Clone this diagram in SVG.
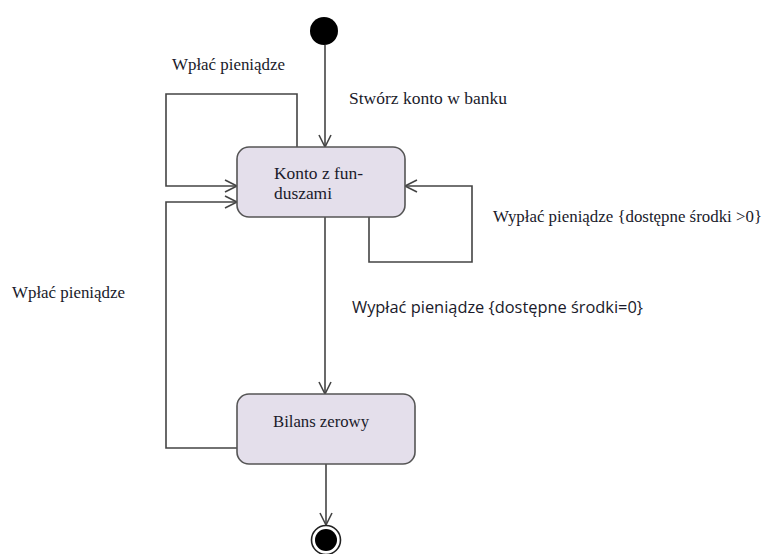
<svg xmlns="http://www.w3.org/2000/svg" width="764" height="554" viewBox="0 0 764 554">
<defs>
<marker id="arr" markerUnits="userSpaceOnUse" markerWidth="16" markerHeight="16" refX="13" refY="7" orient="auto">
<path d="M1,1 L13,7 L1,13" fill="none" stroke="#444" stroke-width="1.6"/>
</marker>
</defs>
<style>
.st{fill:#e4dfeb;stroke:#555;stroke-width:1.6}
.ln{fill:none;stroke:#444;stroke-width:1.6}
.t{font-family:"Liberation Serif",serif;font-size:16px;fill:#1a1a2a}
.s{font-family:"Open Sans","Liberation Sans",sans-serif;font-size:16px;fill:#1a1a2a}
</style>
<rect width="764" height="554" fill="#fff"/>
<g id="connectors">
<path class="ln" d="M325,45 V147" marker-end="url(#arr)"/>
<path class="ln" d="M297,147 V94 H166 V186 H237" marker-end="url(#arr)"/>
<path class="ln" d="M237,448 H166 V202 H237" marker-end="url(#arr)"/>
<path class="ln" d="M369,217 V262 H472 V186 H405" marker-end="url(#arr)"/>
<path class="ln" d="M325,217 V394" marker-end="url(#arr)"/>
<path class="ln" d="M326,464 V525" marker-end="url(#arr)"/>
</g>
<g id="start">
<circle cx="324" cy="31" r="14" fill="#000"/>
</g>
<g id="konto">
<rect class="st" x="237" y="147" width="168" height="70" rx="12"/>
<text class="t" x="274" y="179" textLength="89" lengthAdjust="spacingAndGlyphs">Konto z fun-</text>
<text class="t" x="274" y="199" textLength="58" lengthAdjust="spacingAndGlyphs">duszami</text>
</g>
<g id="bilans">
<rect class="st" x="237" y="394" width="178" height="70" rx="12"/>
<text class="t" x="273" y="427" textLength="96" lengthAdjust="spacingAndGlyphs">Bilans zerowy</text>
</g>
<g id="end">
<circle cx="326" cy="540" r="14.5" fill="#fff" stroke="#222" stroke-width="1.6"/>
<circle cx="326" cy="540" r="11" fill="#000"/>
</g>
<g id="labels">
<text class="t" x="172" y="70" textLength="113" lengthAdjust="spacingAndGlyphs">Wpłać pieniądze</text>
<text class="t" x="349" y="104" textLength="158" lengthAdjust="spacingAndGlyphs">Stwórz konto w banku</text>
<text class="t" x="12" y="298" textLength="113" lengthAdjust="spacingAndGlyphs">Wpłać pieniądze</text>
<text class="t" x="493" y="222" textLength="269" lengthAdjust="spacingAndGlyphs">Wypłać pieniądze {dostępne środki &gt;0}</text>
<text class="s" x="352" y="313" textLength="291" lengthAdjust="spacingAndGlyphs">Wypłać pieniądze {dostępne środki=0}</text>
</g>
</svg>
